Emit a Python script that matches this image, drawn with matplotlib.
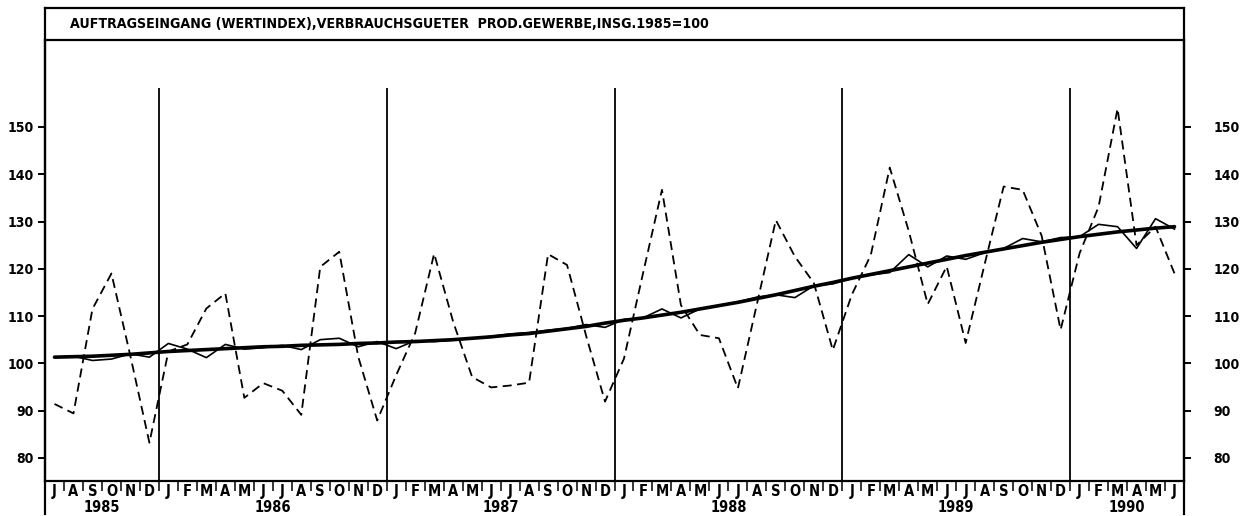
import numpy as np
import matplotlib.pyplot as plt
from matplotlib.lines import Line2D

plt.rcParams['font.family'] = ['DejaVu Sans']
plt.rcParams['font.stretch'] = 'condensed'
plt.rcParams['font.weight'] = 'bold'

title = "AUFTRAGSEINGANG (WERTINDEX),VERBRAUCHSGUETER  PROD.GEWERBE,INSG.1985=100"

# Juli 1985 .. Juni 1990
months = list("JASOND") + list("JFMAMJJASOND") * 4 + list("JFMAMJ")
years = ["1985", "1986", "1987", "1988", "1989", "1990"]
year_len = [6, 12, 12, 12, 12, 6]

# Originalwerte (gestrichelt)
original = [91.4, 89.4, 111.5, 119.0, 101.5, 83.2,
            102.5, 104.0, 111.6, 114.8, 92.7, 95.8, 94.2, 89.1, 120.4, 123.6, 101.4, 87.9,
            97.5, 106.4, 123.2, 108.8, 97.1, 94.9, 95.3, 95.9, 123.1, 120.8, 105.9, 91.9,
            101.0, 119.0, 136.7, 112.3, 106.0, 105.3, 94.7, 112.5, 130.3, 122.6, 117.0, 102.8,
            114.5, 122.9, 141.4, 128.0, 112.5, 120.5, 104.3, 121.0, 137.4, 136.7, 127.0, 107.1,
            123.3, 133.1, 153.9, 125.0, 128.9, 119.0]

# saisonbereinigt (duenn)
adjusted = [101.3, 101.5, 100.6, 100.9, 102.0, 101.3,
            104.2, 103.0, 101.2, 104.0, 103.0, 103.3, 103.8, 102.9, 105.0, 105.3, 103.5, 104.6,
            103.1, 104.8, 104.6, 104.9, 105.3, 105.7, 106.2, 106.5, 107.0, 107.4, 108.2, 107.6,
            109.3, 109.6, 111.5, 109.6, 111.5, 112.2, 113.0, 114.0, 114.5, 113.9, 116.4, 116.8,
            118.0, 118.7, 119.2, 123.0, 120.4, 122.7, 122.0, 123.4, 124.3, 126.4, 125.7, 126.6,
            126.8, 129.4, 128.9, 124.3, 130.6, 128.4]

# Trend (dick)
trend = [101.3, 101.4, 101.5, 101.7, 101.9, 102.2,
         102.5, 102.7, 102.9, 103.1, 103.3, 103.5, 103.6, 103.8, 103.9, 104.0, 104.2, 104.3,
         104.5, 104.6, 104.8, 105.0, 105.3, 105.6, 106.0, 106.3, 106.8, 107.3, 107.8, 108.5,
         109.1, 109.6, 110.2, 110.8, 111.5, 112.2, 112.9, 113.7, 114.5, 115.4, 116.3, 117.1,
         118.0, 118.8, 119.6, 120.4, 121.2, 122.0, 122.8, 123.5, 124.2, 124.9, 125.6, 126.2,
         126.8, 127.3, 127.8, 128.2, 128.6, 128.9]

yticks = [80, 90, 100, 110, 120, 130, 140, 150]

W, H = 1257, 516
fig = plt.figure(figsize=(W / 100, H / 100), dpi=100)

left, right = 45 / W, 1184 / W
bottom, top = 1 - 481 / H, 1 - 40 / H
ax = fig.add_axes([left, bottom, right - left, top - bottom])

x = np.arange(len(original)) + 0.5
ax.plot(x, original, color='black', lw=1.3, ls=(0, (5, 3)))
ax.plot(x, adjusted, color='black', lw=1.2)
ax.plot(x, trend, color='black', lw=2.6, solid_capstyle='round')

ax.set_xlim(0, len(original))
ax.set_ylim(75.1, 168.4)

# Jahrestrennlinien
bounds = np.cumsum(year_len)[:-1]
ax.vlines(bounds, 75.1, 158.2, color='black', lw=1.3)

for s in ['left', 'right', 'bottom', 'top']:
    ax.spines[s].set_linewidth(1.6)

# Monatsbuchstaben
ax.set_xticks(np.arange(0, len(original) + 1), minor=False)
ax.set_xticklabels([])
ax.set_xticks(x, minor=True)
ax.set_xticklabels(months, minor=True, fontsize=10.5, fontweight='bold')
ax.tick_params(axis='x', which='major', direction='out', length=7, width=1.1)
ax.tick_params(axis='x', which='minor', length=0, pad=2)

# Jahreszahlen
start = 0
for yr, n in zip(years, year_len):
    ax.text(start + n / 2, -0.06, yr, transform=ax.get_xaxis_transform(),
            ha='center', va='center', fontsize=10.5, fontweight='bold')
    start += n

ax.set_yticks(yticks)
ax.set_yticklabels([str(v) for v in yticks], fontsize=10, fontweight='bold')
ax.tick_params(axis='y', direction='out', length=5, width=1.4, pad=3)

ax2 = ax.twinx()
ax2.set_ylim(ax.get_ylim())
ax2.set_yticks(yticks)
ax2.set_yticklabels([str(v) for v in yticks], fontsize=10, fontweight='bold')
ax2.tick_params(axis='y', direction='out', length=5, width=1.4, pad=16)
for s in ax2.spines.values():
    s.set_visible(False)

# Titelkasten und verlaengerte Seitenlinien
top_box = 1 - 8 / H
low_end = 1 - 514 / H
fig.add_artist(Line2D([left, right], [top_box, top_box], color='black', lw=1.6))
fig.add_artist(Line2D([left, left], [low_end, top_box], color='black', lw=1.6))
fig.add_artist(Line2D([right, right], [low_end, top_box], color='black', lw=1.6))
fig.text(70 / W, 1 - 24 / H, title, ha='left', va='center', fontsize=10.2, fontweight='bold')

fig.savefig('out.png', dpi=100)
